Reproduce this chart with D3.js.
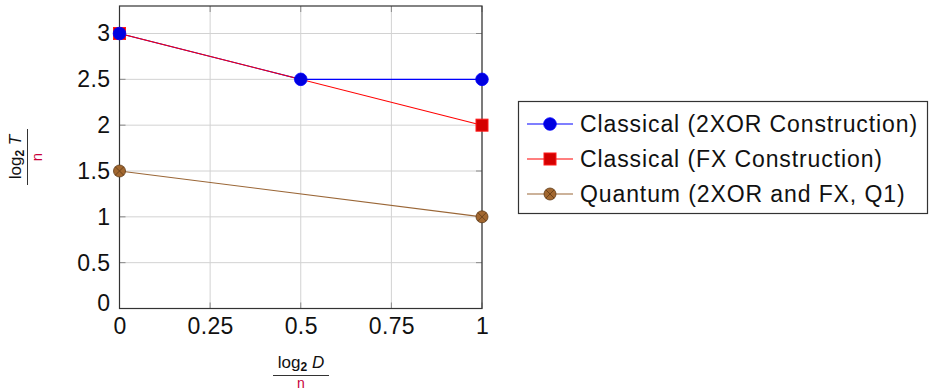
<!DOCTYPE html>
<html>
<head>
<meta charset="utf-8">
<script src="https://cdn.jsdelivr.net/npm/d3@7"></script>
<style>
  body { margin: 0; background: #fff; }
  text { font-family: "Liberation Sans", Arial, sans-serif; }
</style>
</head>
<body>
<div id="chart"></div>
<script>
// data
var xTicks = [0, 0.25, 0.5, 0.75, 1];
var xTickLabels = ["0", "0.25", "0.5", "0.75", "1"];
var yTicks = [0, 0.5, 1, 1.5, 2, 2.5, 3];
var yTickLabels = ["0", "0.5", "1", "1.5", "2", "2.5", "3"];

var classical2xorX = [0, 0.5, 1];
var classical2xorY = [3, 2.5, 2.5];
var classicalFxX = [0, 1];
var classicalFxY = [3, 2];
var quantumX = [0, 1];
var quantumY = [1.5, 1];

var legendLabels = [
  "Classical (2XOR Construction)",
  "Classical (FX Construction)",
  "Quantum (2XOR and FX, Q1)"
];

var series = [
  { name: legendLabels[0], xs: classical2xorX, ys: classical2xorY, line: "#0000ff", mark: "circle", fill: "#0000e0", stroke: "#0000ff" },
  { name: legendLabels[1], xs: classicalFxX, ys: classicalFxY, line: "#ff0000", mark: "square", fill: "#d40000", stroke: "#ff1a1a" },
  { name: legendLabels[2], xs: quantumX, ys: quantumY, line: "#9a6636", mark: "otimes", fill: "#a2672f", stroke: "#5e3a16" }
];

var svg = d3.select("#chart")
  .append("svg")
  .attr("width", 930)
  .attr("height", 392);

var x = d3.scaleLinear().domain([0, 1]).range([119.5, 482]);
var y = d3.scaleLinear().domain([0, 3.3]).range([308.5, 6]);

// grid
svg.append("g").selectAll("line")
  .data(xTicks)
  .enter().append("line")
  .attr("x1", function(d) { return x(d); })
  .attr("x2", function(d) { return x(d); })
  .attr("y1", y(0))
  .attr("y2", y(3.3))
  .style("stroke", "#d2d2d2")
  .style("stroke-width", 1);

svg.append("g").selectAll("line")
  .data(yTicks)
  .enter().append("line")
  .attr("x1", x(0))
  .attr("x2", x(1))
  .attr("y1", function(d) { return y(d); })
  .attr("y2", function(d) { return y(d); })
  .style("stroke", "#d2d2d2")
  .style("stroke-width", 1);

// small inner ticks, pgfplots style
var tickLen = 6;
svg.append("g").selectAll("line")
  .data(yTicks)
  .enter().append("line")
  .attr("x1", x(0)).attr("x2", x(0) + tickLen)
  .attr("y1", function(d) { return y(d); })
  .attr("y2", function(d) { return y(d); })
  .style("stroke", "#8a8a8a");
svg.append("g").selectAll("line")
  .data(yTicks)
  .enter().append("line")
  .attr("x1", x(1)).attr("x2", x(1) - tickLen)
  .attr("y1", function(d) { return y(d); })
  .attr("y2", function(d) { return y(d); })
  .style("stroke", "#8a8a8a");
svg.append("g").selectAll("line")
  .data(xTicks)
  .enter().append("line")
  .attr("x1", function(d) { return x(d); })
  .attr("x2", function(d) { return x(d); })
  .attr("y1", y(0)).attr("y2", y(0) - tickLen)
  .style("stroke", "#8a8a8a");
svg.append("g").selectAll("line")
  .data(xTicks)
  .enter().append("line")
  .attr("x1", function(d) { return x(d); })
  .attr("x2", function(d) { return x(d); })
  .attr("y1", y(3.3)).attr("y2", y(3.3) + tickLen)
  .style("stroke", "#8a8a8a");

// frame
svg.append("rect")
  .attr("x", x(0))
  .attr("y", y(3.3))
  .attr("width", x(1) - x(0))
  .attr("height", y(0) - y(3.3))
  .style("fill", "none")
  .style("stroke", "#333")
  .style("stroke-width", 1.2);

// tick labels via d3 axes, lines hidden
var xAxis = svg.append("g")
  .attr("transform", "translate(0," + y(0) + ")")
  .call(d3.axisBottom(x).tickValues(xTicks).tickSize(0).tickPadding(9)
    .tickFormat(function(d, i) { return xTickLabels[i]; }));
xAxis.select(".domain").remove();
xAxis.selectAll("text")
  .style("font-size", "23px")
  .style("letter-spacing", "0.4px")
  .style("font-family", "'Liberation Sans', Arial, sans-serif")
  .style("fill", "#111");

var yAxis = svg.append("g")
  .attr("transform", "translate(" + x(0) + ",0)")
  .call(d3.axisLeft(y).tickValues(yTicks).tickSize(0).tickPadding(9)
    .tickFormat(function(d, i) { return yTickLabels[i]; }));
yAxis.select(".domain").remove();
yAxis.selectAll("text")
  .style("font-size", "23px")
  .style("letter-spacing", "0.4px")
  .style("font-family", "'Liberation Sans', Arial, sans-serif")
  .style("fill", "#111");
// the y "0" sits a bit low in the reference
yAxis.selectAll(".tick").filter(function(d) { return d === 0; })
  .select("text").attr("dy", "0.1em");

// lines
var line = d3.line()
  .x(function(d) { return x(d[0]); })
  .y(function(d) { return y(d[1]); });

series.forEach(function(s) {
  var pts = s.xs.map(function(v, i) { return [v, s.ys[i]]; });
  svg.append("path")
    .datum(pts)
    .attr("d", line)
    .style("fill", "none")
    .style("stroke", s.line)
    .style("stroke-width", 1.1);
});

// markers
function drawMark(g, s, cx, cy) {
  if (s.mark === "square") {
    g.append("rect")
      .attr("x", cx - 6).attr("y", cy - 6)
      .attr("width", 12).attr("height", 12)
      .style("fill", s.fill)
      .style("stroke", s.stroke)
      .style("stroke-width", 1);
  } else if (s.mark === "circle") {
    g.append("circle")
      .attr("cx", cx).attr("cy", cy).attr("r", 6.3)
      .style("fill", s.fill)
      .style("stroke", s.stroke)
      .style("stroke-width", 0.8);
  } else {
    g.append("circle")
      .attr("cx", cx).attr("cy", cy).attr("r", 6)
      .style("fill", s.fill)
      .style("stroke", s.stroke)
      .style("stroke-width", 0.8);
    var r = 6 * Math.SQRT1_2;
    g.append("path")
      .attr("d", "M" + (cx - r) + "," + (cy - r) + "L" + (cx + r) + "," + (cy + r) +
        "M" + (cx - r) + "," + (cy + r) + "L" + (cx + r) + "," + (cy - r))
      .style("stroke", s.stroke)
      .style("stroke-width", 0.8);
  }
}

// red squares first so the blue dot sits on top at (0,3)
[series[1], series[0], series[2]].forEach(function(s) {
  var g = svg.append("g");
  s.xs.forEach(function(v, i) {
    drawMark(g, s, x(v), y(s.ys[i]));
  });
});

// x label: log2 D / n
var xl = svg.append("g").attr("transform", "translate(301,0)");
var xnum = xl.append("text")
  .attr("x", 0).attr("y", 368)
  .attr("text-anchor", "middle")
  .style("font-size", "17px")
  .style("fill", "#111");
xnum.append("tspan").text("log");
xnum.append("tspan").attr("dy", 3).style("font-size", "12px").style("font-weight", "bold").text("2");
xnum.append("tspan").attr("dy", -3).text(" ");
xnum.append("tspan").style("font-style", "italic").text("D");
xl.append("line")
  .attr("x1", -28).attr("x2", 28)
  .attr("y1", 375.5).attr("y2", 375.5)
  .style("stroke", "#333").style("stroke-width", 1);
xl.append("text")
  .attr("x", 0).attr("y", 388)
  .attr("text-anchor", "middle")
  .style("font-size", "14px")
  .style("fill", "#c8003a")
  .text("n");

// y label: log2 T / n, rotated
var yl = svg.append("g").attr("transform", "translate(27.5,157) rotate(-90)");
var ynum = yl.append("text")
  .attr("x", 0).attr("y", -7)
  .attr("text-anchor", "middle")
  .style("font-size", "17px")
  .style("fill", "#111");
ynum.append("tspan").text("log");
ynum.append("tspan").attr("dy", 3).style("font-size", "12px").style("font-weight", "bold").text("2");
ynum.append("tspan").attr("dy", -3).text(" ");
ynum.append("tspan").style("font-style", "italic").text("T");
yl.append("line")
  .attr("x1", -28).attr("x2", 28)
  .attr("y1", 0).attr("y2", 0)
  .style("stroke", "#333").style("stroke-width", 1);
yl.append("text")
  .attr("x", 0).attr("y", 14)
  .attr("text-anchor", "middle")
  .style("font-size", "15px")
  .style("fill", "#c8003a")
  .text("n");

// legend
var legend = svg.append("g");
legend.append("rect")
  .attr("x", 518.5).attr("y", 101.5)
  .attr("width", 409).attr("height", 112)
  .style("fill", "#fff")
  .style("stroke", "#333")
  .style("stroke-width", 1.2);

var rowY = [124, 159, 194];
series.forEach(function(s, i) {
  var g = legend.append("g");
  g.append("line")
    .attr("x1", 527).attr("x2", 573)
    .attr("y1", rowY[i]).attr("y2", rowY[i])
    .style("stroke", s.line)
    .style("stroke-width", 1.1);
  drawMark(g, s, 550, rowY[i]);
  g.append("text")
    .attr("x", 580).attr("y", rowY[i])
    .attr("dy", "0.36em")
    .style("font-size", "23px")
    .style("letter-spacing", "0.9px")
    .style("fill", "#111")
    .text(s.name);
});
</script>
</body>
</html>
